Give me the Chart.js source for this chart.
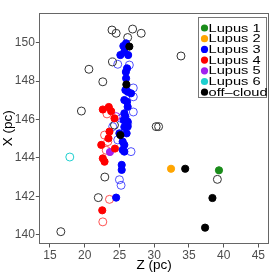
<!DOCTYPE html>
<html>
<head>
<meta charset="utf-8">
<script src="https://cdn.jsdelivr.net/npm/chart.js@4/dist/chart.umd.min.js"></script>
<style>
  html, body { margin: 0; padding: 0; background: #fff; }
  #wrap { width: 274px; height: 274px; }
</style>
</head>
<body>
<div id="wrap"><canvas id="scatter"></canvas></div>
<script>
// filled points: cloud members (Z, X in pc)
const lupus1Z = [39.33];
const lupus1X = [143.36];
const lupus2Z = [32.43];
const lupus2X = [143.44];
const lupus3Z = [25.96, 25.57, 25.71, 25.14, 26.26, 26.10, 25.93, 25.96, 25.86, 26.19, 26.67, 25.71, 26.10, 26.19, 25.71, 25.86, 25.61, 26.19, 25.96, 26.19, 25.71, 26.04, 25.00, 25.47, 25.71, 25.47, 25.71, 25.33, 25.33, 24.53];
const lupus3X = [149.96, 149.82, 149.52, 149.35, 149.35, 148.66, 148.47, 148.14, 147.53, 147.44, 147.36, 147.01, 146.92, 146.66, 146.32, 146.15, 145.97, 145.89, 145.80, 145.63, 145.61, 145.28, 145.28, 144.85, 144.68, 144.42, 144.33, 143.64, 143.38, 141.94];
const lupus4Z = [22.61, 23.47, 23.81, 24.29, 23.57, 23.43, 22.39, 24.36, 22.61, 22.86, 22.53];
const lupus4X = [146.52, 146.65, 146.43, 146.06, 145.37, 145.02, 144.68, 144.49, 143.98, 143.81, 141.28];
const lupus5Z = [23.64];
const lupus5X = [144.31];
const lupus6Z = [];
const lupus6X = [];
const offCloudZ = [26.43, 26.00, 25.14, 34.47, 38.39, 37.33];
const offCloudX = [149.79, 147.82, 145.19, 143.44, 141.92, 140.38];

// open points
const openGreyZ = [23.93, 24.53, 26.19, 26.90, 28.14, 33.86, 24.00, 20.61, 22.61, 19.53, 24.29, 30.29, 30.64, 22.90, 21.96, 16.57, 39.10];
const openGreyX = [150.65, 150.48, 150.26, 150.70, 150.48, 149.30, 148.99, 148.61, 147.96, 146.44, 145.71, 145.63, 145.63, 143.01, 141.94, 140.17, 142.89];
const openBlueZ = [24.76, 26.43, 27.00, 27.00, 27.00, 25.24, 24.04, 24.76, 26.67, 25.00, 25.24, 26.19];
const openBlueX = [148.87, 148.83, 147.64, 147.18, 146.39, 146.06, 145.63, 144.94, 144.33, 142.87, 142.58, 145.80];
const openRedZ = [23.21, 22.86, 23.33, 23.10, 23.57, 22.61];
const openRedX = [146.29, 145.19, 144.85, 144.40, 141.85, 140.68];
const openPurpleZ = [24.53];
const openPurpleX = [146.15];
const openCyanZ = [17.86];
const openCyanX = [144.05];

const zTicks = [15, 20, 25, 30, 35, 40, 45];
const xTicks = [140, 142, 144, 146, 148, 150];

const legendNames = ['Lupus 1', 'Lupus 2', 'Lupus 3', 'Lupus 4', 'Lupus 5', 'Lupus 6', 'off\u2013cloud'];
const legendColors = ['#1a8c1a', '#ffa500', '#0000ff', '#ff0000', '#a020f0', '#1ecfcf', '#000000'];

function pts(zs, xs) {
    return zs.map((z, i) => ({ x: z, y: xs[i] }));
}

function filled(zs, xs, color) {
    return {
        data: pts(zs, xs),
        backgroundColor: color,
        borderColor: color,
        borderWidth: 1,
        pointRadius: 3.6
    };
}

function open(zs, xs, color) {
    return {
        data: pts(zs, xs),
        backgroundColor: 'rgba(0,0,0,0)',
        borderColor: color,
        borderWidth: 1,
        pointRadius: 4
    };
}

// legend box inside the panel, plus the panel border
const panelExtras = {
    id: 'panelExtras',
    afterDraw(chart) {
        const ctx = chart.ctx;
        const a = chart.chartArea;
        ctx.save();
        ctx.strokeStyle = '#666';
        ctx.lineWidth = 1;
        ctx.strokeRect(Math.round(a.left) + 0.5, Math.round(a.top) + 0.5,
            Math.round(a.right - a.left) - 1, Math.round(a.bottom - a.top) - 1);

        const bx = 198.5, by = 17.5, bw = 68, bh = 80, step = 10.7;
        ctx.fillStyle = '#fff';
        ctx.fillRect(bx, by, bw, bh);
        ctx.strokeStyle = '#777';
        ctx.strokeRect(bx, by, bw, bh);
        ctx.font = '11px "Liberation Sans", Arial, sans-serif';
        ctx.textBaseline = 'middle';
        legendNames.forEach((name, i) => {
            const cy = by + 10.5 + i * step;
            ctx.fillStyle = legendColors[i];
            ctx.beginPath();
            ctx.arc(bx + 6, cy, 3.6, 0, Math.PI * 2);
            ctx.fill();
            ctx.save();
            ctx.translate(bx + 10, cy);
            ctx.scale(1.33, 1);
            ctx.fillStyle = '#000';
            ctx.fillText(name, 0, 0.5);
            ctx.restore();
        });
        ctx.restore();
    }
};

const tickFont = { family: '"Liberation Sans", Arial, sans-serif', size: 12 };
const titleFont = { family: '"Liberation Sans", Arial, sans-serif', size: 13.5 };

new Chart(document.getElementById('scatter'), {
    type: 'scatter',
    data: {
        datasets: [
            filled(lupus1Z, lupus1X, legendColors[0]),
            filled(lupus2Z, lupus2X, legendColors[1]),
            filled(offCloudZ, offCloudX, legendColors[6]),
            filled(lupus3Z, lupus3X, legendColors[2]),
            filled(lupus4Z, lupus4X, legendColors[3]),
            filled(lupus5Z, lupus5X, legendColors[4]),
            filled(lupus6Z, lupus6X, legendColors[5]),
            open(openGreyZ, openGreyX, '#333'),
            open(openBlueZ, openBlueX, 'rgba(40,40,255,0.8)'),
            open(openRedZ, openRedX, 'rgba(255,40,40,0.8)'),
            open(openPurpleZ, openPurpleX, '#a020f0'),
            open(openCyanZ, openCyanX, '#1ecfcf')
        ]
    },
    options: {
        responsive: true,
        maintainAspectRatio: false,
        animation: false,
        events: [],
        layout: { padding: { top: 12.7, right: 3.5, left: 0, bottom: 0 } },
        scales: {
            x: {
                type: 'linear',
                min: 13.47,
                max: 46.53,
                afterBuildTicks: (s) => { s.ticks = zTicks.map(v => ({ value: v })); },
                afterFit: (s) => { s.height = 30; },
                grid: { drawOnChartArea: false, drawTicks: true, tickLength: 3.5, tickColor: '#555' },
                border: { display: false },
                ticks: { color: '#4d4d4d', font: tickFont, padding: 1, maxRotation: 0 },
                title: { display: true, text: 'Z (pc)', color: '#000', font: titleFont, padding: { top: 0, bottom: 1 } }
            },
            y: {
                type: 'linear',
                min: 139.53,
                max: 151.55,
                afterBuildTicks: (s) => { s.ticks = xTicks.map(v => ({ value: v })); },
                afterFit: (s) => { s.width = 39.3; },
                grid: { drawOnChartArea: false, drawTicks: true, tickLength: 3.5, tickColor: '#555' },
                border: { display: false },
                ticks: { color: '#4d4d4d', font: tickFont, padding: 1 },
                title: { display: true, text: 'X (pc)', color: '#000', font: titleFont, padding: { top: 0, bottom: 0 } }
            }
        },
        plugins: {
            legend: { display: false },
            tooltip: { enabled: false }
        }
    },
    plugins: [panelExtras]
});
</script>
</body>
</html>
